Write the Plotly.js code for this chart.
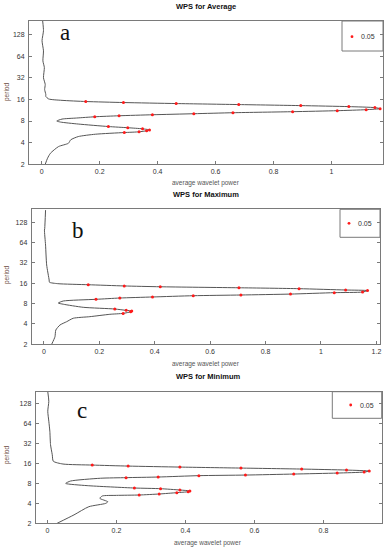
<!DOCTYPE html>
<html><head><meta charset="utf-8">
<script src="https://cdn.plot.ly/plotly-3.0.1.min.js"></script>
<style>html,body{margin:0;padding:0;background:#fff}#chart{width:391px;height:550px}</style>
</head><body><div id="chart"></div>
<script>
// ---- data ----
const periodTicks = [2, 4, 8, 16, 32, 64, 128];
const panelTitles = ["WPS for Average", "WPS for Maximum", "WPS for Minimum"];
const panelLetters = ["a", "b", "c"];
const legendLabel = "0.05";
const xAxisLabel = "average wavelet power";
const yAxisLabel = "period";

// Panel a: average
const periodA = [2.00, 2.43, 2.85, 3.53, 3.92, 4.38, 4.86, 5.24, 5.53, 5.66, 5.86, 6.02, 6.23, 6.45, 6.70, 7.26, 7.73, 8.00, 8.51, 8.80,
  9.16, 9.46, 9.77, 10.10, 10.43, 10.78, 11.13, 11.50, 11.88, 12.28, 12.68, 13.10, 13.54, 13.99, 14.45, 14.93, 15.5, 16.2, 17.6, 18.8,
  21.9, 25.8, 32.0, 44.3, 54.9, 75.6, 104.7, 144, 199.5];
const powerA = [0.012, 0.020, 0.030, 0.058, 0.092, 0.100, 0.126, 0.185, 0.285, 0.336, 0.362, 0.372, 0.348, 0.297, 0.230, 0.126, 0.065, 0.052, 0.070, 0.120,
  0.183, 0.267, 0.382, 0.525, 0.660, 0.866, 1.02, 1.12, 1.168, 1.15, 1.06, 0.894, 0.68, 0.464, 0.282, 0.152, 0.070, 0.024, 0.014, 0.014,
  0.010, 0.012, 0.006, 0.009, 0.004, 0.006, 0.001, 0.006, 0.003];
const sigPeriodA = [5.53, 5.66, 5.86, 6.02, 6.23, 6.45, 6.70, 9.16, 9.46, 9.77, 10.10, 10.43, 10.78, 11.13, 11.50, 11.88, 12.28, 12.68, 13.10, 13.54, 13.99, 14.45, 14.93];
const sigPowerA = [0.285, 0.336, 0.362, 0.372, 0.348, 0.297, 0.230, 0.183, 0.267, 0.382, 0.525, 0.660, 0.866, 1.02, 1.12, 1.168, 1.15, 1.06, 0.894, 0.68, 0.464, 0.282, 0.152];

// Panel b: maximum
const periodB = [2.00, 2.59, 3.25, 3.86, 4.32, 4.86, 5.13, 5.56, 5.74, 6.06, 6.23, 6.36, 6.66, 7.06, 7.84, 8.17, 8.75,
  9.27, 9.69, 10.04, 10.48, 10.74, 11.08, 11.63, 11.88, 12.47, 12.73, 13.32, 13.74, 14.22, 14.62, 15.24, 15.8, 16.6, 17.9,
  29.9, 58.9, 98, 104, 194];
const powerB = [0.028, 0.040, 0.043, 0.058, 0.082, 0.106, 0.166, 0.238, 0.286, 0.313, 0.317, 0.297, 0.256, 0.142, 0.070, 0.052, 0.070,
  0.188, 0.274, 0.392, 0.539, 0.711, 0.89, 1.048, 1.15, 1.168, 1.089, 0.921, 0.704, 0.42, 0.29, 0.16, 0.05, 0.020, 0.019,
  0.010, 0.006, 0.002, 0.003, 0.006];
const sigPeriodB = [5.74, 6.06, 6.23, 6.36, 6.66, 9.27, 9.69, 10.04, 10.48, 10.74, 11.08, 11.63, 11.88, 12.47, 12.73, 13.32, 13.74, 14.22, 14.62, 15.24];
const sigPowerB = [0.286, 0.313, 0.317, 0.297, 0.256, 0.188, 0.274, 0.392, 0.539, 0.711, 0.89, 1.048, 1.15, 1.168, 1.089, 0.921, 0.704, 0.42, 0.29, 0.16];

// Panel c: minimum
const periodC = [2.00, 2.68, 3.56, 4.00, 4.23, 4.76, 5.17, 5.28, 5.35, 5.54, 5.80, 6.00, 6.15, 6.36, 6.66, 6.82, 7.41, 8.00, 8.69, 9.58,
  9.78, 9.99, 10.48, 10.70, 11.08, 11.47, 11.88, 12.29, 12.73, 13.18, 13.64, 14.12, 14.62, 15.14, 15.7, 17.3,
  21.7, 30.7, 49.2, 69.6, 98.4, 139, 194];
const powerC = [0.028, 0.077, 0.120, 0.169, 0.175, 0.152, 0.159, 0.200, 0.266, 0.324, 0.375, 0.408, 0.413, 0.384, 0.328, 0.252, 0.115, 0.053, 0.067, 0.154,
  0.228, 0.321, 0.439, 0.574, 0.714, 0.84, 0.918, 0.933, 0.867, 0.737, 0.561, 0.384, 0.234, 0.13, 0.045, 0.017,
  0.014, 0.009, 0.007, 0.004, 0.001, 0.004, 0.001];
const sigPeriodC = [5.35, 5.54, 5.80, 6.00, 6.15, 6.36, 6.66, 6.82, 9.78, 9.99, 10.48, 10.70, 11.08, 11.47, 11.88, 12.29, 12.73, 13.18, 13.64, 14.12, 14.62, 15.14];
const sigPowerC = [0.266, 0.324, 0.375, 0.408, 0.413, 0.384, 0.328, 0.252, 0.228, 0.321, 0.439, 0.574, 0.714, 0.84, 0.918, 0.933, 0.867, 0.737, 0.561, 0.384, 0.234, 0.13];

// ---- layout helpers (pixel geometry) ----
const W = 391, H = 550;
const px = v => v / W;
const py = v => 1 - v / H;
const FONT = "Liberation Sans, Arial, sans-serif";
const lineCol = "#555";
const frameCol = "#7a7a7a";

const panels = [
  {period: periodA, power: powerA, sp: sigPeriodA, sw: sigPowerA, box: [29, 383, 21, 164.3], xr: [-0.044, 1.178], top: 7.62, dtick: 0.2,
   title: [206, 7], xlab: [206, 183], ylab: [7, 92], letter: [65, 32], leg: [342, 383, 21, 51], dot: [352, 36.7]},
  {period: periodB, power: powerB, sp: sigPeriodB, sw: sigPowerB, box: [31.7, 380, 209.3, 344.3], xr: [-0.044, 1.213], top: 7.64, dtick: 0.2,
   title: [206, 194], xlab: [206, 364], ylab: [7, 275], letter: [78, 230], leg: [340, 380, 209.3, 237.3], dot: [349, 223.3]},
  {period: periodC, power: powerC, sp: sigPeriodC, sw: sigPowerC, box: [35.7, 381.7, 391.7, 523.3], xr: [-0.034, 0.969], top: 7.60, dtick: 0.2,
   title: [208, 376], xlab: [208, 542.5], ylab: [7, 455], letter: [82, 410], leg: [332.3, 381.7, 391.7, 418.3], dot: [350.7, 405]}
];

const traces = [];
const layout = {
  width: W, height: H, margin: {l: 0, r: 0, t: 0, b: 0},
  paper_bgcolor: "#fff", plot_bgcolor: "#fff", showlegend: false,
  font: {family: FONT, size: 7, color: "#333"},
  annotations: [], shapes: []
};

panels.forEach((p, i) => {
  const n = i === 0 ? "" : String(i + 1);
  const xa = "x" + n, ya = "y" + n;
  traces.push({type: "scatter", mode: "lines", x: p.power, y: p.period, xaxis: xa, yaxis: ya,
    line: {color: lineCol, width: 1, shape: "spline", smoothing: 0.6}, hoverinfo: "skip"});
  traces.push({type: "scatter", mode: "markers", x: p.sw, y: p.sp, xaxis: xa, yaxis: ya, name: legendLabel,
    marker: {color: "#ff1a1a", size: 3, symbol: "circle"}});
  const [l, r, t, b] = p.box;
  layout["xaxis" + n] = {domain: [px(l), px(r)], range: p.xr, anchor: ya, tick0: 0, dtick: p.dtick,
    ticks: "inside", ticklen: 3, tickwidth: 1, tickcolor: frameCol, showline: true, linecolor: frameCol, linewidth: 1,
    mirror: true, showgrid: false, zeroline: false, tickfont: {family: FONT, size: 7, color: "#333"}, fixedrange: true};
  layout["yaxis" + n] = {domain: [py(b), py(t)], type: "log", range: [Math.log10(2), p.top * Math.log10(2)], anchor: xa,
    tickmode: "array", tickvals: periodTicks, ticktext: periodTicks.map(String),
    ticks: "inside", ticklen: 3, tickwidth: 1, tickcolor: frameCol, showline: true, linecolor: frameCol, linewidth: 1,
    mirror: "ticks", showgrid: false, zeroline: false, tickfont: {family: FONT, size: 7, color: "#333"}, ticklabelstandoff: 2, fixedrange: true};

  layout.annotations.push({text: "<b>" + panelTitles[i] + "</b>", xref: "paper", yref: "paper", x: px(p.title[0]), y: py(p.title[1]),
    xanchor: "center", yanchor: "middle", showarrow: false, font: {family: FONT, size: 7.5, color: "#111"}});
  layout.annotations.push({text: xAxisLabel, xref: "paper", yref: "paper", x: px(p.xlab[0]), y: py(p.xlab[1]),
    xanchor: "center", yanchor: "middle", showarrow: false, font: {family: FONT, size: 6.5, color: "#555"}});
  layout.annotations.push({text: yAxisLabel, xref: "paper", yref: "paper", x: px(p.ylab[0]), y: py(p.ylab[1]), textangle: -90,
    xanchor: "center", yanchor: "middle", showarrow: false, font: {family: FONT, size: 6.5, color: "#6a4a40"}});
  layout.annotations.push({text: panelLetters[i], xref: "paper", yref: "paper", x: px(p.letter[0]), y: py(p.letter[1]),
    xanchor: "center", yanchor: "middle", showarrow: false, font: {family: "Liberation Serif, DejaVu Serif, serif", size: 23, color: "#111"}});

  // legend box
  const [ll, lr, lt, lb] = p.leg;
  layout.shapes.push({type: "rect", xref: "paper", yref: "paper", x0: px(ll), x1: px(lr), y0: py(lb), y1: py(lt),
    line: {color: frameCol, width: 1}, fillcolor: "rgba(0,0,0,0)"});
  const [dx, dy] = p.dot;
  layout.shapes.push({type: "circle", xref: "paper", yref: "paper", x0: px(dx - 1.4), x1: px(dx + 1.4), y0: py(dy + 1.4), y1: py(dy - 1.4),
    line: {width: 0}, fillcolor: "#ff1a1a"});
  layout.annotations.push({text: legendLabel, xref: "paper", yref: "paper", x: px(dx + 7), y: py(dy),
    xanchor: "left", yanchor: "middle", showarrow: false, font: {family: FONT, size: 7, color: "#333"}});
});

Plotly.newPlot("chart", traces, layout, {displayModeBar: false, staticPlot: true});
</script></body></html>
